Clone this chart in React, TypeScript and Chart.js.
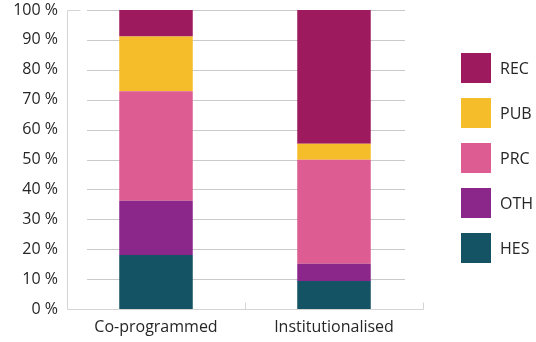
import React, { useEffect, useRef } from "react";
import { Chart, registerables } from "chart.js";

Chart.register(...registerables);

const categories = ["Co-programmed", "Institutionalised"];
const seriesNames = ["HES", "OTH", "PRC", "PUB", "REC"];
const hesValues = [18.1, 9.4];
const othValues = [18.1, 5.7];
const prcValues = [36.6, 34.8];
const pubValues = [18.3, 5.4];
const recValues = [8.9, 44.7];
const seriesColors = ["#135364", "#8b268b", "#dd5c91", "#f6bd2a", "#9e1a5e"];
const yTicks = [0, 10, 20, 30, 40, 50, 60, 70, 80, 90, 100];

const FONT = "'Open Sans', 'Liberation Sans', sans-serif";
const TEXT = "#262626";

const linesPlugin = {
  id: "customLines",
  beforeDatasetsDraw(chart: any) {
    const { ctx, chartArea, scales } = chart;
    const y = scales.y;
    const x = scales.x;
    ctx.save();
    ctx.lineWidth = 1;
    ctx.strokeStyle = "#cacaca";
    yTicks.forEach((t) => {
      if (t === 0) return;
      const py = Math.round(y.getPixelForValue(t)) + 0.5;
      ctx.beginPath();
      ctx.moveTo(chartArea.left + 20, py);
      ctx.lineTo(chartArea.right - 18, py);
      ctx.stroke();
    });
    ctx.strokeStyle = "#d4d4d4";
    const left = Math.round(chartArea.left) + 0.5;
    const bottom = Math.round(y.getPixelForValue(0)) + 0.5;
    const top = Math.round(y.getPixelForValue(100)) + 0.5;
    const right = Math.round(chartArea.right) + 0.5;
    ctx.beginPath();
    ctx.moveTo(left + 13, top);
    ctx.lineTo(left, top);
    ctx.lineTo(left, bottom);
    ctx.lineTo(right, bottom);
    ctx.lineTo(right, bottom - 7);
    ctx.stroke();
    const mid = Math.round((x.getPixelForValue(0) + x.getPixelForValue(1)) / 2) + 0.5;
    ctx.beginPath();
    ctx.moveTo(mid, bottom);
    ctx.lineTo(mid, bottom - 7);
    ctx.stroke();
    ctx.restore();
  },
};

const legendPlugin = {
  id: "customLegend",
  afterDraw(chart: any) {
    const { ctx } = chart;
    const ds = chart.data.datasets;
    ctx.save();
    ctx.font = `16px ${FONT}`;
    ctx.textBaseline = "middle";
    ctx.textAlign = "left";
    const n = ds.length;
    for (let i = 0; i < n; i++) {
      const d = ds[n - 1 - i];
      const top = 53 + i * 45;
      ctx.fillStyle = d.backgroundColor;
      ctx.fillRect(461, top, 30, 30);
      ctx.fillStyle = TEXT;
      ctx.fillText(d.label, 500, top + 16);
    }
    ctx.restore();
  },
};

export default function App() {
  const ref = useRef<HTMLCanvasElement>(null);
  useEffect(() => {
    const valueLists = [hesValues, othValues, prcValues, pubValues, recValues];
    const chart = new Chart(ref.current as HTMLCanvasElement, {
      type: "bar",
      data: {
        labels: categories,
        datasets: seriesNames.map((name, i) => ({
          label: name,
          data: valueLists[i],
          backgroundColor: seriesColors[i],
          borderWidth: 0,
          categoryPercentage: 1,
          barPercentage: 0.413,
        })),
      },
      options: {
        animation: false,
        responsive: false,
        maintainAspectRatio: false,
        layout: { padding: { top: 10, right: 113, left: 0, bottom: 0 } },
        plugins: {
          legend: { display: false },
          tooltip: { enabled: false },
        },
        scales: {
          x: {
            stacked: true,
            grid: { display: false, drawTicks: false },
            border: { display: false },
            ticks: {
              color: TEXT,
              font: { family: FONT, size: 16 },
              padding: 9,
              maxRotation: 0,
            },
            afterFit(scale: any) {
              scale.height = 33;
              scale.paddingLeft = 0;
              scale.paddingRight = 0;
            },
          },
          y: {
            stacked: true,
            min: 0,
            max: 100,
            grid: { display: false, drawTicks: false },
            border: { display: false },
            ticks: {
              stepSize: 10,
              color: TEXT,
              font: { family: FONT, size: 16 },
              padding: 9,
              callback: (v: any) => `${v} %`,
            },
            afterFit(scale: any) {
              scale.width = 67;
              scale.paddingTop = 0;
              scale.paddingBottom = 0;
            },
          },
        },
      },
      plugins: [linesPlugin, legendPlugin],
    });
    return () => chart.destroy();
  }, []);
  return (
    <div style={{ position: "fixed", left: 0, top: 0, width: 536, height: 342, background: "#fff" }}>
      <canvas ref={ref} width={536} height={342} style={{ width: 536, height: 342 }} />
    </div>
  );
}
